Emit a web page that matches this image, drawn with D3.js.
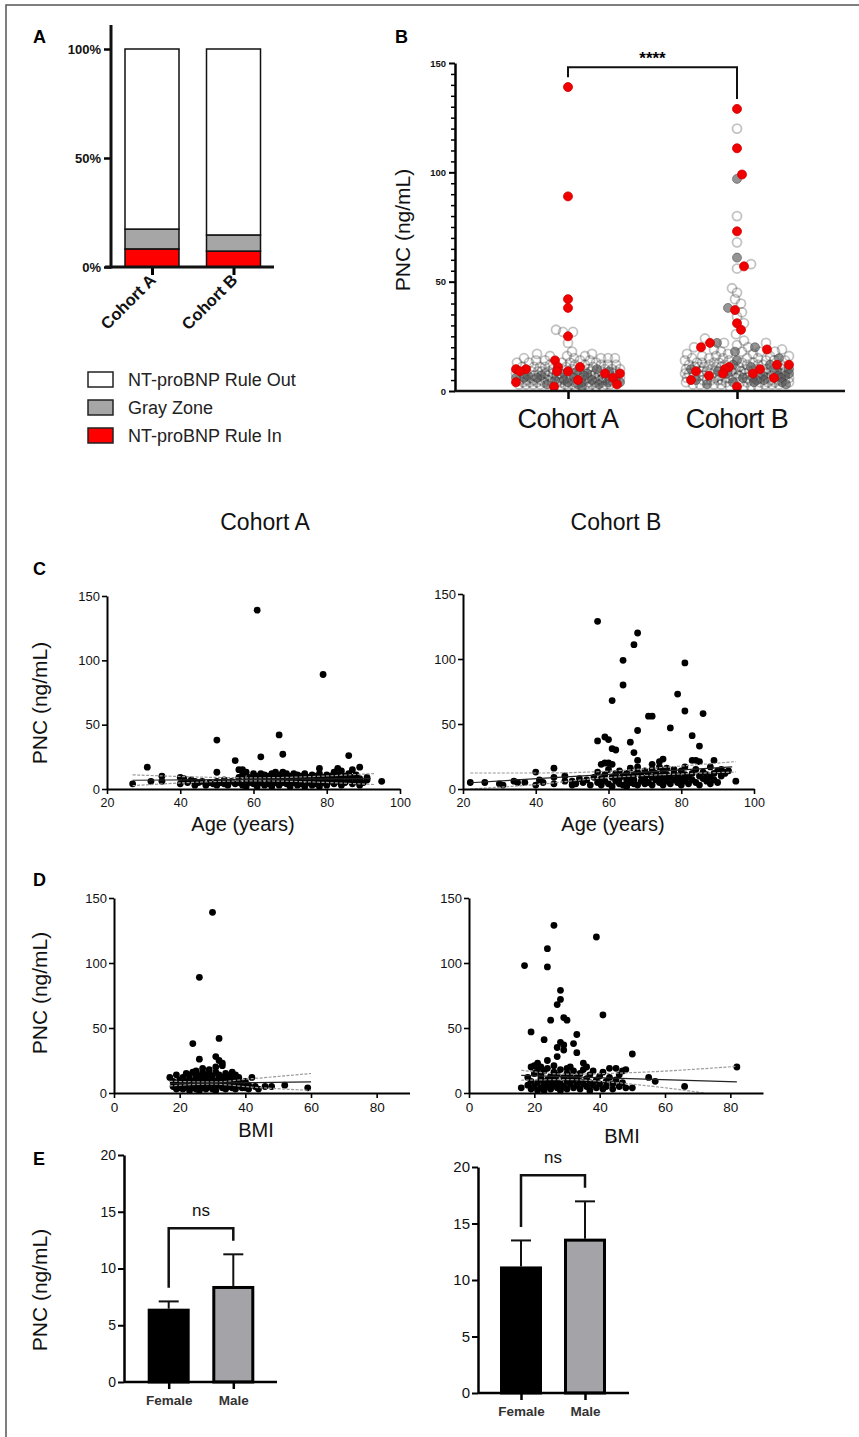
<!DOCTYPE html>
<html>
<head>
<meta charset="utf-8">
<script src="https://cdn.jsdelivr.net/npm/d3@7"></script>
<style>
  body { margin: 0; background: #fff; }
  svg text { font-family: "Liberation Sans", Arial, sans-serif; }
</style>
</head>
<body>
<div id="fig"></div>
<script>
// ---------- data ----------
const cohorts = ["Cohort A", "Cohort B"];

// Panel A: share of patients (%)
const ruleInPct = [8.3, 7.3];
const grayZonePct = [9.1, 7.4];
const ruleOutPct = [82.6, 85.3];
const pctTicks = [0, 50, 100];
const legendLabels = ["NT-proBNP Rule Out", "Gray Zone", "NT-proBNP Rule In"];

// Panel B: PNC (ng/mL) per patient, by NT-proBNP group
const pncA_ruleOut = [28, 27, 27, 22, 18, 17, 17, 16, 16, 16, 15, 15, 15, 15, 15, 14, 14, 14, 14,
  13, 13, 13, 13, 13, 12, 12, 12, 12, 12, 12, 11, 11, 11, 11, 11, 11, 10, 10, 10, 10, 10, 10, 10,
  9, 9, 9, 9, 9, 9, 9, 9, 8, 8, 8, 8, 8, 8, 8, 8, 8, 7, 7, 7, 7, 7, 7, 7, 7, 7, 7,
  6, 6, 6, 6, 6, 6, 6, 6, 6, 6, 6, 5, 5, 5, 5, 5, 5, 5, 5, 5, 5, 5, 5,
  4, 4, 4, 4, 4, 4, 4, 4, 4, 4, 4, 4, 3, 3, 3, 3, 3, 3, 3, 3, 3, 3, 2, 2, 2, 2, 2, 2];
const pncA_grayZone = [10, 9, 9, 8, 8, 7, 7, 7, 6, 6, 6, 6, 5, 5, 5, 5, 4, 4, 4, 4, 3, 3, 3, 2];
const pncA_ruleIn = [139, 89, 42, 38, 25, 14, 11, 11, 10, 10, 9, 9, 9, 8, 8, 6, 5, 4, 3, 2];

const pncB_ruleOut = [120, 80, 68, 58, 56, 47, 45, 42, 40, 36, 34, 31, 26, 24, 23, 22, 22, 21, 20, 20,
  19, 19, 18, 18, 18, 18, 17, 17, 17, 16, 16, 16, 16, 15, 15, 15, 15, 15, 14, 14, 14, 14, 14,
  13, 13, 13, 13, 13, 13, 12, 12, 12, 12, 12, 12, 12, 11, 11, 11, 11, 11, 11, 11,
  10, 10, 10, 10, 10, 10, 10, 10, 9, 9, 9, 9, 9, 9, 9, 9, 8, 8, 8, 8, 8, 8, 8, 8, 8,
  7, 7, 7, 7, 7, 7, 7, 7, 7, 6, 6, 6, 6, 6, 6, 6, 6, 6, 5, 5, 5, 5, 5, 5, 5, 5, 5,
  4, 4, 4, 4, 4, 4, 4, 4, 3, 3, 3, 3, 3, 3, 3, 2, 2, 2, 2];
const pncB_grayZone = [97, 61, 38, 22, 20, 18, 15, 14, 12, 12, 11, 10, 10, 9, 9, 8, 8, 7, 7, 7,
  6, 6, 6, 5, 5, 5, 4, 4, 4, 3, 3];
const pncB_ruleIn = [129, 111, 99, 73, 57, 37, 31, 28, 22, 20, 19, 12, 12, 11, 10, 10, 9, 8, 8, 7, 6, 5, 2];
const significance = "****";

// Panel C: [age (years), PNC]
const agePncA = [[61,139],[79,89],[67,42],[50,38],[68,27],[86,26],[62,25],[55,22],[31,17],[89,17],[78,16],[83,16],
  [56,15],[57,15],[87,15],[50,13],[84,14],
  [27,4],[32,6],[35,10],[35,6],[40,9],[41,8],[40,4],[42,5],[43,7],[44,6],[45,5],[44,3],[46,6],[47,3],[48,5],[49,4],
  [50,6],[50,3],[51,5],[52,4],[52,7],[53,5],[53,3],[54,6],[55,4],
  [56,9],[56,5],[57,11],[57,3],[58,7],[58,13],[58,2],[59,5],[59,9],[60,12],[60,4],[60,8],[61,6],[61,10],[61,2],
  [62,12],[62,5],[62,8],[63,3],[63,9],[63,11],[64,6],[64,4],[64,10],[65,7],[65,12],[65,2],[66,5],[66,9],[66,13],
  [67,3],[67,7],[67,11],[68,5],[68,9],[68,13],[69,4],[69,8],[69,12],[70,6],[70,10],[70,2],[71,5],[71,9],[71,12],
  [72,3],[72,7],[72,11],[73,6],[73,10],[73,4],[74,8],[74,12],[74,2],[75,5],[75,9],[76,7],[76,11],[76,3],[77,6],
  [77,10],[77,4],[78,8],[78,12],[78,2],[79,5],[79,9],[80,7],[80,11],[80,3],[81,6],[81,10],[82,4],[82,8],[82,13],
  [83,6],[83,11],[84,3],[84,8],[85,5],[85,10],[86,7],[86,12],[87,4],[87,9],[88,6],[88,11],[89,3],[89,8],[90,5],
  [91,7],[91,9],[95,6]];
const agePncB = [[57,129],[68,120],[67,111],[64,99],[81,97],[64,80],[79,73],[61,68],[81,60],[86,58],[71,56],[72,56],
  [77,47],[68,45],[83,41],[59,40],[60,38],[57,37],[66,36],[85,33],[61,31],[62,30],[67,28],[83,22],[84,22],[85,21],
  [75,23],[74,21],[72,19],[68,22],[89,22],[58,19],[59,20],[60,20],[61,19],[91,15],[93,14],[92,12],[95,6],
  [22,5],[26,5],[30,4],[31,3],[34,6],[35,5],[37,5],[40,13],[40,3],[42,5],[41,7],[45,16],[45,4],[45,9],[48,10],
  [48,6],[50,6],[50,3],[51,4],[52,8],[53,5],[54,7],[55,3],[56,9],
  [57,13],[57,5],[58,8],[58,3],[59,11],[59,6],[60,15],[60,4],[61,9],[61,2],[62,12],[62,6],[63,8],[63,4],[63,14],
  [64,10],[64,3],[65,7],[65,12],[65,2],[66,5],[66,9],[66,16],[67,4],[67,11],[67,7],[68,13],[68,3],[68,17],[69,6],
  [69,10],[70,8],[70,4],[70,14],[71,11],[71,5],[72,9],[72,3],[72,15],[73,7],[73,12],[74,5],[74,10],[74,17],[75,8],
  [75,3],[75,14],[76,6],[76,11],[76,16],[77,4],[77,9],[78,12],[78,7],[78,15],[79,5],[79,10],[80,8],[80,3],[80,14],
  [81,6],[81,11],[81,17],[82,4],[82,9],[83,12],[83,7],[84,5],[84,15],[85,10],[85,3],[86,8],[86,13],[87,6],[87,11],
  [88,4],[88,9],[88,17],[89,7],[89,12],[90,5],[90,14],[91,10],[92,13]];
// linear fit and 95% band: [age, PNC]
const ageFitA = [[27,6.8],[92,8]];
const ageUpperA = [[27,11],[60,8.7],[93,12]];
const ageLowerA = [[27,2.6],[60,6.3],[93,3.5]];
const ageFitB = [[22,4.8],[94,17]];
const ageUpperB = [[22,12.3],[40,12.3],[58,13.4],[75,16.6],[95,21.1]];
const ageLowerB = [[22,0],[40,3.4],[58,8.4],[75,11],[95,13.1]];

// Panel D: [BMI, PNC]
const bmiPncA = [[30,139],[26,89],[24,38],[32,42],[26,26],[31,28],[32,25],[33,23],[33,21],[17,12],[42,12],[40,4],
  [43,5],[46,5],[48,5],[52,6],[59,4],[38,10],[39,7],[41,3],[44,3],
  [18,5],[18,9],[19,3],[19,7],[19,14],[20,4],[20,10],[20,6],[21,12],[21,3],[21,8],[22,5],[22,15],[22,9],[23,2],
  [23,7],[23,11],[23,14],[24,4],[24,9],[24,16],[24,6],[25,3],[25,12],[25,8],[25,15],[26,5],[26,10],[26,2],[26,13],
  [27,7],[27,16],[27,4],[27,11],[28,9],[28,3],[28,14],[28,6],[29,12],[29,5],[29,8],[29,15],[30,3],[30,10],[30,7],
  [30,13],[31,5],[31,16],[31,9],[31,2],[32,11],[32,6],[32,14],[33,4],[33,8],[33,12],[34,6],[34,15],[34,3],[34,10],
  [35,8],[35,13],[35,5],[36,4],[36,11],[36,7],[37,9],[37,3],[37,14],[38,6],[38,12],[39,4],[40,9],[41,6],[36,16],
  [29,18],[27,19],[25,17],[31,20]];
const bmiPncB = [[26,129],[39,120],[24,111],[17,98],[24,97],[28,79],[28,72],[27,68],[41,60],[29,58],[25,56],[30,56],
  [19,47],[33,45],[23,41],[28,39],[32,38],[29,37],[29,33],[27,35],[33,31],[50,30],[27,28],[24,25],[21,23],[35,23],
  [43,19],[82,20],[48,18],[55,12],[57,9],[66,5],[16,4],[48,4],[50,4],[19,20],[20,21],
  [18,6],[18,12],[19,3],[19,9],[20,15],[20,5],[21,8],[21,2],[21,18],[22,11],[22,4],[22,14],[23,7],[23,17],[23,2],
  [24,10],[24,5],[24,19],[25,13],[25,3],[25,8],[26,6],[26,16],[26,11],[27,4],[27,9],[27,14],[28,7],[28,2],[28,18],
  [29,12],[29,5],[30,9],[30,15],[30,3],[31,7],[31,13],[31,20],[32,4],[32,10],[32,17],[33,6],[33,12],[34,3],[34,9],
  [34,15],[35,7],[35,18],[36,5],[36,11],[37,2],[37,8],[37,14],[38,6],[38,17],[39,10],[39,4],[40,13],[40,7],[41,3],
  [41,16],[42,9],[42,5],[43,12],[44,7],[44,3],[45,10],[46,14],[46,5],[47,8],[47,17],[45,19],[36,20],[30,19],
  [26,21],[22,20]];
const bmiFitA = [[17,7.3],[60,8.5]];
const bmiUpperA = [[17,9],[30,8.5],[42,11],[60,15]];
const bmiLowerA = [[17,5.5],[30,6.8],[42,4.5],[60,2]];
const bmiFitB = [[16,13.6],[82,8.5]];
const bmiUpperB = [[16,17.5],[30,14.5],[48,15.5],[82,20.5]];
const bmiLowerB = [[16,9.8],[30,10.3],[45,8],[53,6],[62,3.4],[72,0]];

// Panel E: mean PNC by sex, with upper error bar
const sexes = ["Female", "Male"];
const sexMeanA = [6.46, 8.46];
const sexErrA = [7.1, 11.25];
const sexMeanB = [11.2, 13.66];
const sexErrB = [13.5, 16.96];
const sexTest = "ns";

// ---------- figure ----------
const W = 859, H = 1437;
const svg = d3.select("#fig").append("svg")
  .attr("width", W).attr("height", H)
  .style("display", "block");

svg.append("path")
  .attr("d", `M6,${H}V5H${W}`)
  .attr("fill", "none").attr("stroke", "#555").attr("stroke-width", 1.5);

const letter = (t, x, y) => svg.append("text").attr("x", x).attr("y", y)
  .attr("font-size", 18).attr("font-weight", "bold").text(t);
letter("A", 33, 43); letter("B", 395, 43); letter("C", 33, 575); letter("D", 33, 886); letter("E", 33, 1165);

const yTitle = (t, x, y, size) => svg.append("text")
  .attr("transform", `translate(${x},${y}) rotate(-90)`)
  .attr("text-anchor", "middle").attr("font-size", size).attr("fill", "#111").text(t);

// ---------- Panel A: stacked bars ----------
{
  const rows = cohorts.map((c, i) => ({ cohort: c, ruleIn: ruleInPct[i], grayZone: grayZonePct[i], ruleOut: ruleOutPct[i] }));
  const keys = ["ruleIn", "grayZone", "ruleOut"];
  const colors = { ruleIn: "#ff0000", grayZone: "#a6a6a6", ruleOut: "#ffffff" };
  const series = d3.stack().keys(keys)(rows);
  const x = d3.scalePoint().domain(cohorts).range([152, 233.5]);
  const y = d3.scaleLinear().domain([0, 100]).range([267, 49]);
  const barW = 54;

  series.forEach(s => {
    svg.append("g").selectAll("rect").data(s).join("rect")
      .attr("x", d => x(d.data.cohort) - barW / 2)
      .attr("width", barW)
      .attr("y", d => y(d[1]))
      .attr("height", d => y(d[0]) - y(d[1]))
      .attr("fill", colors[s.key])
      .attr("stroke", "#111").attr("stroke-width", 1.5);
  });

  const ax = svg.append("g").attr("transform", "translate(111,0)")
    .call(d3.axisLeft(y).tickValues(pctTicks).tickFormat(d => d + "%").tickSize(7).tickSizeOuter(0));
  ax.select(".domain").remove();
  ax.selectAll(".tick line").attr("stroke-width", 2.5);
  ax.selectAll("text").attr("font-size", 13).attr("font-weight", "bold").attr("fill", "#111");
  svg.append("line").attr("x1", 111).attr("x2", 111).attr("y1", 25).attr("y2", 268.5)
    .attr("stroke", "#111").attr("stroke-width", 3);

  const bx = svg.append("g").attr("transform", "translate(0,267)")
    .call(d3.axisBottom(x).tickSize(8).tickSizeOuter(0).tickFormat(""));
  bx.select(".domain").remove();
  bx.selectAll(".tick line").attr("stroke-width", 3);
  svg.append("line").attr("x1", 105).attr("x2", 274).attr("y1", 267).attr("y2", 267)
    .attr("stroke", "#111").attr("stroke-width", 3);
  svg.append("g").selectAll("text").data(cohorts).join("text")
    .attr("transform", d => `translate(${x(d) + 5},${281}) rotate(-45)`)
    .attr("text-anchor", "end").attr("font-size", 16.5).attr("font-weight", "bold").attr("fill", "#111")
    .text(d => d);

  const leg = svg.append("g").attr("transform", "translate(88,372)");
  const legKeys = ["ruleOut", "grayZone", "ruleIn"];
  legendLabels.forEach((t, i) => {
    const g = leg.append("g").attr("transform", `translate(0,${i * 28})`);
    g.append("rect").attr("width", 25).attr("height", 15)
      .attr("fill", colors[legKeys[i]]).attr("stroke", "#222").attr("stroke-width", 1.5);
    g.append("text").attr("x", 40).attr("y", 14).attr("font-size", 18).attr("fill", "#222").text(t);
  });
}

// ---------- Panel B: scatter dot plot ----------
// lone dots sit on the column centre; crowded dots start from a spot given by their
// rank in their own group (scaled by how crowded it is) and move outward
function swarm(points, y, cx, maxW, minD) {
  const order = points.map((d, i) => i)
    .sort((a, b) => (points[a].v - points[b].v) || (points[a].t - points[b].t));
  const placed = [];
  order.forEach(i => {
    const py = y(points[i].v);
    const near = placed.filter(p => Math.abs(p.y - py) < minD);
    let best = 0;
    if (near.length) {
      const crowd = Math.min(1, near.length / 10);
      const start = Math.round((points[i].t - 0.5) * 2 * maxW * 0.9 * crowd);
      let bestD = -1;
      for (let k = 0; k <= 4 * maxW; k++) {
        const dx = start + (k === 0 ? 0 : (k % 2 ? (k + 1) / 2 : -k / 2));
        if (Math.abs(dx) > maxW) continue;
        let m = Infinity;
        near.forEach(p => { m = Math.min(m, Math.hypot(p.x - (cx + dx), p.y - py)); });
        if (m >= minD) { best = dx; break; }
        if (m > bestD) { bestD = m; best = dx; }
      }
    }
    points[i].x = cx + best;
    points[i].y = py;
    placed.push(points[i]);
  });
  return points;
}
{
  const x = d3.scalePoint().domain(cohorts).range([568, 737]);
  const y = d3.scaleLinear().domain([0, 150]).range([391, 63]);
  const groups = [
    [pncA_ruleOut, pncA_grayZone, pncA_ruleIn],
    [pncB_ruleOut, pncB_grayZone, pncB_ruleIn]
  ];
  const cats = ["out", "gray", "in"];
  const layers = { out: [], gray: [], in: [] };
  groups.forEach((g, ci) => {
    const pts = [];
    // t: golden-ratio rank so each group spreads across the column width
    g.forEach((arr, k) => arr.forEach((v, j) => pts.push({ v, cat: cats[k], t: ((j + k * 0.37) * 0.618034) % 1 })));
    swarm(pts, y, x(cohorts[ci]), 52, 6.5);
    pts.forEach(p => layers[p.cat].push(p));
  });
  const r = 4.5;
  svg.append("g").selectAll("circle").data(layers.out).join("circle")
    .attr("cx", d => d.x).attr("cy", d => d.y).attr("r", r)
    .attr("fill", "none").attr("stroke", "rgba(0,0,0,0.24)").attr("stroke-width", 1.8);
  svg.append("g").selectAll("circle").data(layers.gray).join("circle")
    .attr("cx", d => d.x).attr("cy", d => d.y).attr("r", r)
    .attr("fill", "rgba(90,90,90,0.65)").attr("stroke", "rgba(60,60,60,0.5)").attr("stroke-width", 1);
  svg.append("g").selectAll("circle").data(layers.in).join("circle")
    .attr("cx", d => d.x).attr("cy", d => d.y).attr("r", r)
    .attr("fill", "#f00000").attr("stroke", "#d00000").attr("stroke-width", 0.8);

  const ax = svg.append("g").attr("transform", "translate(455,0)")
    .call(d3.axisLeft(y).tickValues([0, 50, 100, 150]).tickSize(6).tickSizeOuter(0));
  ax.select(".domain").attr("stroke-width", 2.5);
  ax.selectAll(".tick line").attr("stroke-width", 2);
  ax.selectAll("text").attr("font-size", 9.5).attr("font-weight", "bold").attr("fill", "#111");
  svg.append("g").attr("transform", "translate(455,0)")
    .call(d3.axisLeft(y).tickValues(d3.range(0, 151, 5).filter(v => v % 50)).tickSize(4).tickFormat(""))
    .call(g => g.select(".domain").remove())
    .selectAll(".tick line").attr("stroke-width", 1.5);

  const bx = svg.append("g").attr("transform", "translate(0,391)")
    .call(d3.axisBottom(x).tickSize(8).tickFormat(""));
  bx.select(".domain").remove();
  bx.selectAll(".tick line").attr("stroke-width", 2.5);
  svg.append("line").attr("x1", 454).attr("x2", 845).attr("y1", 391).attr("y2", 391)
    .attr("stroke", "#111").attr("stroke-width", 2.5);
  svg.append("g").selectAll("text").data(cohorts).join("text")
    .attr("x", d => x(d)).attr("y", 428).attr("text-anchor", "middle")
    .attr("font-size", 27).attr("letter-spacing", -0.5).attr("fill", "#111").text(d => d);
  yTitle("PNC (ng/mL)", 410, 230, 21);

  // significance bracket
  const maxA = d3.max(groups[0].flat()), maxB = d3.max(groups[1].flat());
  const top = y(Math.max(maxA, maxB) + 9);
  svg.append("path")
    .attr("d", `M${x(cohorts[0])},${y(maxA + 4.5)}V${top}H${x(cohorts[1])}V${y(maxB + 4.5)}`)
    .attr("fill", "none").attr("stroke", "#111").attr("stroke-width", 2);
  svg.append("text").attr("x", (x(cohorts[0]) + x(cohorts[1])) / 2).attr("y", 64)
    .attr("text-anchor", "middle").attr("font-size", 17).attr("font-weight", "bold").text(significance);
}

// ---------- Panels C and D: correlation scatter ----------
svg.append("text").attr("x", 265).attr("y", 530).attr("text-anchor", "middle")
  .attr("font-size", 23).attr("fill", "#111").text("Cohort A");
svg.append("text").attr("x", 616).attr("y", 530).attr("text-anchor", "middle")
  .attr("font-size", 23).attr("fill", "#111").text("Cohort B");

function scatterPanel(cfg) {
  const x = d3.scaleLinear().domain(cfg.xDomain).range([cfg.left, cfg.right]);
  const y = d3.scaleLinear().domain([0, 150]).range([cfg.bottom, cfg.top]);
  const g = svg.append("g");
  g.append("g").selectAll("circle").data(cfg.data).join("circle")
    .attr("cx", d => x(d[0])).attr("cy", d => y(d[1])).attr("r", 3.4).attr("fill", "#000");
  const line = d3.line().x(d => x(d[0])).y(d => y(Math.max(0, d[1]))).curve(d3.curveMonotoneX);
  [cfg.upper, cfg.lower].forEach(b => g.append("path").attr("d", line(b))
    .attr("fill", "none").attr("stroke", "#9a9a9a").attr("stroke-width", 1.2).attr("stroke-dasharray", "3,1.5"));
  g.append("path").attr("d", line(cfg.fit)).attr("fill", "none").attr("stroke", "#222").attr("stroke-width", 1.2);

  const ay = g.append("g").attr("transform", `translate(${cfg.left},0)`)
    .call(d3.axisLeft(y).tickValues([0, 50, 100, 150]).tickSize(5).tickSizeOuter(0).tickPadding(2));
  ay.select(".domain").attr("stroke-width", 2);
  ay.selectAll(".tick line").attr("stroke-width", 1.6);
  ay.selectAll("text").attr("font-size", 13).attr("fill", "#111");
  const ax = g.append("g").attr("transform", `translate(0,${cfg.bottom})`)
    .call(d3.axisBottom(x).tickValues(cfg.xTicks).tickSize(5).tickSizeOuter(0).tickPadding(4));
  ax.select(".domain").attr("stroke-width", 2);
  ax.selectAll(".tick line").attr("stroke-width", 1.6);
  ax.selectAll("text").attr("font-size", cfg.tickSize).attr("fill", "#111");
  g.append("text").attr("x", cfg.titleX).attr("y", cfg.titleY).attr("text-anchor", "middle")
    .attr("font-size", 20).attr("fill", "#111").text(cfg.title);
}

scatterPanel({ data: agePncA, fit: ageFitA, upper: ageUpperA, lower: ageLowerA, xDomain: [20, 100],
  xTicks: [20, 40, 60, 80, 100], left: 107, right: 400, top: 596, bottom: 789, tickSize: 12.5,
  title: "Age (years)", titleX: 243, titleY: 831 });
scatterPanel({ data: agePncB, fit: ageFitB, upper: ageUpperB, lower: ageLowerB, xDomain: [20, 100],
  xTicks: [20, 40, 60, 80, 100], left: 463, right: 754, top: 594, bottom: 789, tickSize: 12.5,
  title: "Age (years)", titleX: 613, titleY: 831 });
scatterPanel({ data: bmiPncA, fit: bmiFitA, upper: bmiUpperA, lower: bmiLowerA, xDomain: [0, 90],
  xTicks: [0, 20, 40, 60, 80], left: 114, right: 409.5, top: 898, bottom: 1093, tickSize: 13.5,
  title: "BMI", titleX: 256, titleY: 1137 });
scatterPanel({ data: bmiPncB, fit: bmiFitB, upper: bmiUpperB, lower: bmiLowerB, xDomain: [0, 90],
  xTicks: [0, 20, 40, 60, 80], left: 469, right: 763, top: 898, bottom: 1093, tickSize: 13.5,
  title: "BMI", titleX: 622, titleY: 1143 });
yTitle("PNC (ng/mL)", 47, 703, 21);
yTitle("PNC (ng/mL)", 47, 993, 21);

// ---------- Panel E: bar charts ----------
function barPanel(cfg) {
  const x = d3.scalePoint().domain(sexes).range(cfg.centers);
  const y = d3.scaleLinear().domain([0, 20]).range([cfg.bottom, cfg.top]);
  const bw = 42;
  const g = svg.append("g");
  const fills = ["#000", "#a3a3a8"];
  sexes.forEach((s, i) => {
    g.append("line").attr("x1", x(s)).attr("x2", x(s))
      .attr("y1", y(cfg.mean[i])).attr("y2", y(cfg.err[i])).attr("stroke", "#111").attr("stroke-width", 2);
    g.append("line").attr("x1", x(s) - 10).attr("x2", x(s) + 10)
      .attr("y1", y(cfg.err[i])).attr("y2", y(cfg.err[i])).attr("stroke", "#111").attr("stroke-width", 2);
    g.append("rect").attr("x", x(s) - bw / 2 + 1.5).attr("width", bw - 3)
      .attr("y", y(cfg.mean[i]) + 1.5).attr("height", y(0) - y(cfg.mean[i]) - 1.5)
      .attr("fill", fills[i]).attr("stroke", "#000").attr("stroke-width", 3);
  });
  const topV = d3.max(cfg.err) + 2.3;
  g.append("path")
    .attr("d", `M${x(sexes[0])},${y(cfg.err[0] + 1.2)}V${y(topV)}H${x(sexes[1])}V${y(cfg.err[1] + 1.2)}`)
    .attr("fill", "none").attr("stroke", "#111").attr("stroke-width", 2.5);
  g.append("text").attr("x", (x(sexes[0]) + x(sexes[1])) / 2).attr("y", y(topV) - 12)
    .attr("text-anchor", "middle").attr("font-size", 17).attr("fill", "#111").text(sexTest);

  const ay = g.append("g").attr("transform", `translate(${cfg.left},0)`)
    .call(d3.axisLeft(y).tickValues([0, 5, 10, 15, 20]).tickSize(6).tickSizeOuter(0).tickPadding(2));
  ay.select(".domain").attr("stroke-width", 2.5);
  ay.selectAll(".tick line").attr("stroke-width", 2);
  ay.selectAll("text").attr("font-size", cfg.tickSize).attr("fill", "#111");
  const ax = g.append("g").attr("transform", `translate(0,${cfg.bottom})`)
    .call(d3.axisBottom(x).tickSize(7).tickSizeOuter(0).tickPadding(6));
  ax.select(".domain").attr("d", `M${cfg.left},0H${cfg.right}`).attr("stroke-width", 2.5);
  ax.selectAll(".tick line").attr("stroke-width", 2.5);
  ax.selectAll("text").attr("font-size", 13.5).attr("font-weight", "bold").attr("fill", "#333");
}
barPanel({ mean: sexMeanA, err: sexErrA, centers: [168.7, 233.3], left: 124, right: 277,
  top: 1155, bottom: 1382, tickSize: 14 });
barPanel({ mean: sexMeanB, err: sexErrB, centers: [521, 585], left: 478, right: 629,
  top: 1167, bottom: 1393, tickSize: 15 });
yTitle("PNC (ng/mL)", 47, 1290, 21);
</script>
</body>
</html>
